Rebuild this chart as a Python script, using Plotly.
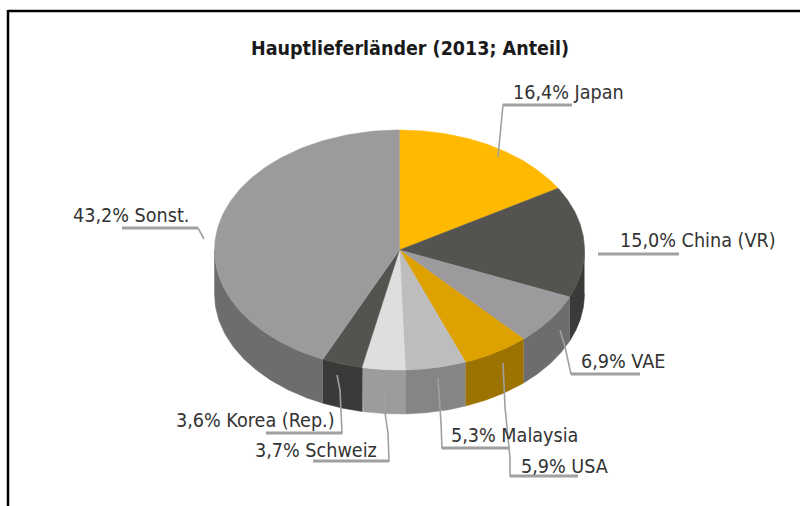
import numpy as np
import plotly.graph_objects as go

# ---- data ----
countries = ["Japan", "China (VR)", "VAE", "USA", "Malaysia", "Schweiz", "Korea (Rep.)", "Sonst."]
shares = [16.4, 15.0, 6.9, 5.9, 5.3, 3.7, 3.6, 43.2]
share_labels = ["16,4%", "15,0%", "6,9%", "5,9%", "5,3%", "3,7%", "3,6%", "43,2%"]
title_text = "Hauptlieferländer (2013; Anteil)"

# ---- styles ----
top_colors = ["#FFB900", "#535450", "#9C9A9C", "#DEA200", "#BDBDBD", "#DEDEDE", "#535450", "#9C9A9C"]
side_colors = ["#9C7200", "#3A3B38", "#6E6C6E", "#9C7200", "#858585", "#9C9C9C", "#3A3B38", "#6E6C6E"]
TEXT = "#333333"
LEADER = "#A0A0A0"
FONT = "DejaVu Sans Condensed"

# ---- layout of the pie on the page ----
CX, CY, RX, RY, DEPTH = 399.5, 250, 185, 120, 44
label_pos = [(511, 92), (618, 240), (579, 361), (519, 466), (449, 435), (253, 450), (174, 420), (71, 215)]
leaders = [
    [(572, 105), (503, 105), (498, 157)],
    [(679, 254), (598, 254)],
    [(640, 374), (571, 374), (565, 347), (560, 330)],
    [(578, 476), (510, 476), (510, 458), (505, 407), (503, 363)],
    [(510, 448), (442, 448), (441, 423), (438, 378)],
    [(313, 461), (389, 461), (388, 433), (385, 413), (385, 387)],
    [(266, 433), (342, 433), (340, 390), (337, 375)],
    [(122, 228), (198, 228), (204, 239)],
]


def ex(t):
    return CX + RX * np.sin(np.radians(t))


def ey(t, dz=0):
    return CY - RY * np.cos(np.radians(t)) + dz


fig = go.Figure()
edges = np.concatenate([[0], np.cumsum(shares)]) / sum(shares) * 360


def poly(xs, ys, color):
    fig.add_trace(go.Scatter(x=xs, y=ys, mode="lines", fill="toself", fillcolor=color,
                             line=dict(color=color, width=0.5), hoverinfo="skip"))


# side walls, only the part that faces the viewer
for i in range(len(shares)):
    a, b = max(edges[i], 90), min(edges[i + 1], 270)
    if a >= b:
        continue
    t = np.linspace(a, b, 60)
    xs = np.concatenate([ex(t), ex(t[::-1])])
    ys = np.concatenate([ey(t), ey(t[::-1], DEPTH)])
    poly(xs, ys, side_colors[i])

# top faces
for i in range(len(shares)):
    t = np.linspace(edges[i], edges[i + 1], 120)
    poly(np.concatenate([[CX], ex(t), [CX]]), np.concatenate([[CY], ey(t), [CY]]), top_colors[i])

# leader lines
for i, pts in enumerate(leaders):
    xs, ys = zip(*pts)
    fig.add_trace(go.Scatter(x=xs, y=ys, mode="lines", hoverinfo="skip",
                             line=dict(color=LEADER, width=2.2 if len(pts) == 2 else 1.6)))
    # the horizontal shelf is heavier than the drop to the slice
    fig.add_trace(go.Scatter(x=xs[:2], y=ys[:2], mode="lines", hoverinfo="skip",
                             line=dict(color=LEADER, width=3)))

annotations = [
    dict(x=x, y=y, xref="x", yref="y", xanchor="left", yanchor="middle", showarrow=False,
         text=f"{s} {c}", font=dict(family=FONT, size=19.6, color=TEXT))
    for (x, y), s, c in zip(label_pos, share_labels, countries)
]
annotations.append(dict(x=410, y=48, xref="x", yref="y", xanchor="center", yanchor="middle",
                        showarrow=False, text=f"<b>{title_text}</b>",
                        font=dict(family=FONT, size=19.5, color="#1A1A1A")))

# page frame
shapes = [
    dict(type="line", xref="x", yref="y", x0=8, y0=11, x1=800, y1=11, line=dict(color="black", width=2.5)),
    dict(type="line", xref="x", yref="y", x0=8, y0=10, x1=8, y1=506, line=dict(color="black", width=2.5)),
]

fig.update_layout(
    width=800, height=506, margin=dict(l=0, r=0, t=0, b=0),
    paper_bgcolor="white", plot_bgcolor="white", showlegend=False,
    xaxis=dict(range=[0, 800], visible=False, fixedrange=True),
    yaxis=dict(range=[506, 0], visible=False, fixedrange=True),
    annotations=annotations, shapes=shapes,
)
fig.write_html("out.html", config={"displayModeBar": False},
               post_script="document.body.style.margin='0';document.body.style.overflow='hidden';")
